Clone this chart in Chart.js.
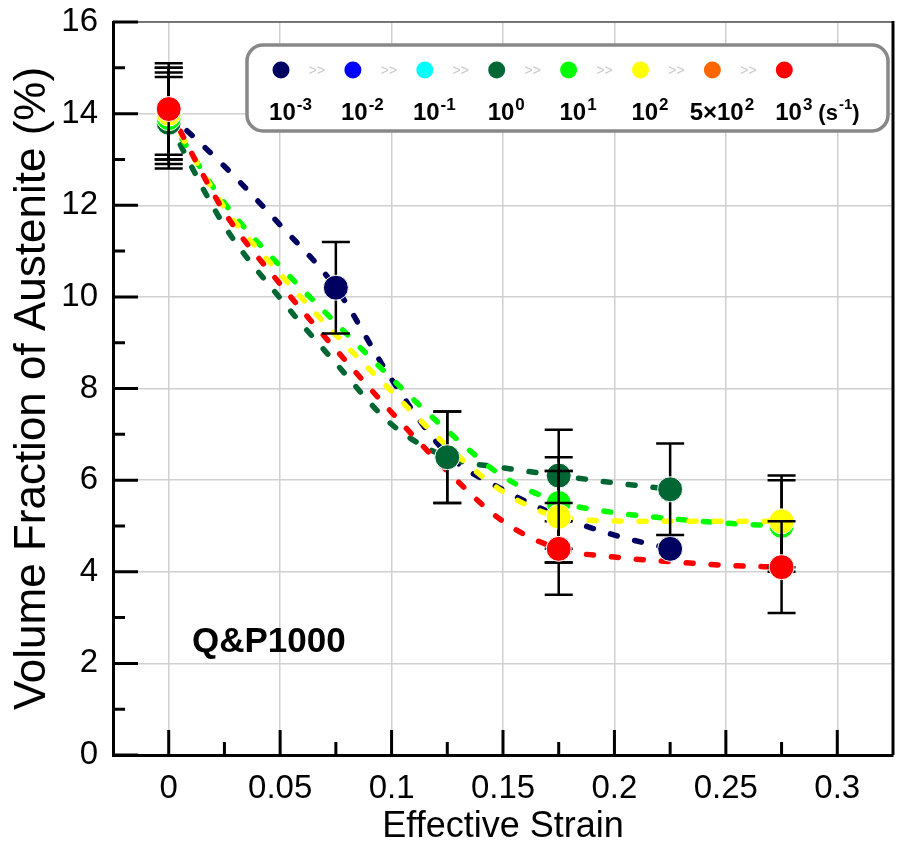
<!DOCTYPE html>
<html>
<head>
<meta charset="utf-8">
<script src="https://cdn.jsdelivr.net/npm/chart.js@4.4.1/dist/chart.umd.min.js"></script>
<style>
html, body { margin: 0; padding: 0; background: #fff; }
canvas { display: block; }
</style>
</head>
<body>
<canvas id="chartAustenite" width="897" height="851"></canvas>
<script>
// axis ticks
var xTicks = [0, 0.05, 0.1, 0.15, 0.2, 0.25, 0.3];
var xTickLabels = ['0', '0.05', '0.1', '0.15', '0.2', '0.25', '0.3'];
var xMinor = [0.025, 0.075, 0.125, 0.175, 0.225, 0.275];
var yTicks = [0, 2, 4, 6, 8, 10, 12, 14, 16];
var yMinor = [1, 3, 5, 7, 9, 11, 13, 15];

// strain rate legend (s-1)
var rateLabels = [['10', '-3'], ['10', '-2'], ['10', '-1'], ['10', '0'], ['10', '1'], ['10', '2'], ['5×10', '2'], ['10', '3']];
var rateColors = ['#000060', '#0000ff', '#00ffff', '#006633', '#00ff00', '#ffff00', '#ff6600', '#ff0000'];

// dashed trend curves, read along the dashes
var curveX = [0, 0.025, 0.05, 0.075, 0.1, 0.125, 0.15, 0.175, 0.2, 0.225, 0.25, 0.275];
var navyCurve = [14.0, 12.85, 11.57, 10.2, 8.2, 6.57, 5.79, 5.22, 4.8, 4.5];
var dkGreenCurve = [13.8, 11.55, 9.97, 8.55, 7.22, 6.5, 6.27, 6.1, 5.94, 5.8];
var limeCurve = [13.9, 12.05, 10.67, 9.43, 8.22, 7.08, 6.08, 5.53, 5.29, 5.16, 5.06, 5.0];
var yellowCurve = [14.0, 11.95, 10.5, 9.17, 7.94, 6.74, 5.75, 5.2, 5.11, 5.1, 5.1, 5.1];
var redCurve = [14.1, 11.85, 10.28, 8.85, 7.48, 6.2, 5.1, 4.5, 4.32, 4.22, 4.14, 4.1];

// measured points with error (+/-)
var navyX = [0, 0.075, 0.125, 0.175, 0.225];
var navyY = [14.0, 10.2, 6.5, 5.2, 4.5];
var navyErr = [1, 1, 1, 1, 0];
var dkGreenX = [0, 0.125, 0.175, 0.225];
var dkGreenY = [13.8, 6.5, 6.1, 5.8];
var dkGreenErr = [1, 1, 1, 1];
var limeX = [0, 0.175, 0.275];
var limeY = [13.9, 5.5, 5.0];
var limeErr = [1, 1, 1];
var yellowX = [0, 0.175, 0.275];
var yellowY = [14.0, 5.2, 5.1];
var yellowErr = [1, 1, 1];
var redX = [0, 0.175, 0.275];
var redY = [14.1, 4.5, 4.1];
var redErr = [1, 1, 1];

var FONT = "'Liberation Sans', Arial, sans-serif";

function pairs(xs, ys) {
    return ys.map(function (v, i) { return { x: xs[i], y: v }; });
}

function curveSet(ys, color, ord) {
    return {
        data: pairs(curveX, ys),
        showLine: true,
        borderColor: color,
        borderWidth: 5.5,
        borderDash: [7, 18],
        borderCapStyle: 'round',
        pointRadius: 0,
        cubicInterpolationMode: 'monotone',
        fill: false,
        order: ord
    };
}

function pointSet(xs, ys, errs, color, ord) {
    return {
        data: pairs(xs, ys),
        errs: errs,
        showLine: false,
        backgroundColor: color,
        borderColor: '#ffffff',
        borderWidth: 1,
        pointRadius: 12.5,
        order: ord
    };
}

function noPadding(s) {
    s.paddingTop = 0;
    s.paddingBottom = 0;
    s.paddingLeft = 0;
    s.paddingRight = 0;
}

var errorBars = {
    id: 'errorBars',
    beforeDatasetDraw: function (chart, args) {
        var ds = chart.data.datasets[args.index];
        if (!ds.errs) return;
        var ctx = chart.ctx;
        var y = chart.scales.y;
        ctx.save();
        ctx.strokeStyle = '#000';
        ctx.lineWidth = 2.5;
        args.meta.data.forEach(function (pt, i) {
            var e = ds.errs[i];
            if (!e) return;
            var v = ds.data[i].y;
            var top = y.getPixelForValue(v + e);
            var bot = y.getPixelForValue(v - e);
            ctx.beginPath();
            ctx.moveTo(pt.x, top); ctx.lineTo(pt.x, bot);
            ctx.moveTo(pt.x - 14, top); ctx.lineTo(pt.x + 14, top);
            ctx.moveTo(pt.x - 14, bot); ctx.lineTo(pt.x + 14, bot);
            ctx.stroke();
        });
        ctx.restore();
    }
};

var frameAndLegend = {
    id: 'frameAndLegend',
    afterDraw: function (chart) {
        var ctx = chart.ctx;
        var a = chart.chartArea;
        var xs = chart.scales.x, ys = chart.scales.y;
        ctx.save();

        // top and right borders
        ctx.strokeStyle = '#555';
        ctx.lineWidth = 1.5;
        ctx.beginPath(); ctx.moveTo(a.left, a.top); ctx.lineTo(a.right, a.top); ctx.stroke();
        ctx.strokeStyle = '#000';
        ctx.lineWidth = 3;
        ctx.beginPath(); ctx.moveTo(a.right, a.top - 1); ctx.lineTo(a.right, a.bottom); ctx.stroke();

        // inward ticks
        ctx.lineWidth = 3;
        ctx.beginPath();
        yTicks.forEach(function (v) { var p = ys.getPixelForValue(v); ctx.moveTo(a.left, p); ctx.lineTo(a.left + 25, p); });
        yMinor.forEach(function (v) { var p = ys.getPixelForValue(v); ctx.moveTo(a.left, p); ctx.lineTo(a.left + 12, p); });
        xTicks.forEach(function (v) { var p = xs.getPixelForValue(v); ctx.moveTo(p, a.bottom); ctx.lineTo(p, a.bottom - 25); });
        xMinor.forEach(function (v) { var p = xs.getPixelForValue(v); ctx.moveTo(p, a.bottom); ctx.lineTo(p, a.bottom - 13); });
        ctx.stroke();

        // sample name
        ctx.fillStyle = '#000';
        ctx.font = 'bold 35px ' + FONT;
        ctx.textBaseline = 'alphabetic';
        ctx.textAlign = 'left';
        ctx.fillText('Q&P1000', 192, 652);

        // legend box
        ctx.beginPath();
        ctx.roundRect(247, 45, 641, 86, 16);
        ctx.fillStyle = '#fff';
        ctx.fill();
        ctx.strokeStyle = '#888';
        ctx.lineWidth = 3.5;
        ctx.stroke();

        rateLabels.forEach(function (lab, i) {
            var cx = 281 + i * 71.9;
            ctx.beginPath();
            ctx.arc(cx, 70, 8.5, 0, Math.PI * 2);
            ctx.fillStyle = rateColors[i];
            ctx.fill();
            if (i < rateLabels.length - 1) {
                ctx.fillStyle = '#c8c8c8';
                ctx.font = '14px ' + FONT;
                ctx.textAlign = 'center';
                ctx.fillText('>>', cx + 36, 75);
            }
            ctx.textAlign = 'left';
            ctx.font = 'bold 24px ' + FONT;
            var wb = ctx.measureText(lab[0]).width;
            ctx.font = 'bold 17px ' + FONT;
            var ws = ctx.measureText(lab[1]).width;
            var x0 = cx + 9 - (wb + ws) / 2;
            ctx.fillStyle = '#000';
            ctx.font = 'bold 24px ' + FONT;
            ctx.fillText(lab[0], x0, 120);
            ctx.font = 'bold 17px ' + FONT;
            ctx.fillText(lab[1], x0 + wb + 1, 110);
            if (i === rateLabels.length - 1) {
                var x1 = x0 + wb + ws + 7;
                ctx.font = 'bold 22px ' + FONT;
                ctx.fillText('(s', x1, 120);
                x1 += ctx.measureText('(s').width;
                ctx.font = 'bold 15px ' + FONT;
                ctx.fillText('-1', x1 + 1, 109);
                x1 += ctx.measureText('-1').width + 1;
                ctx.font = 'bold 22px ' + FONT;
                ctx.fillText(')', x1, 120);
            }
        });
        ctx.restore();
    }
};

var config = {
    type: 'scatter',
    data: {
        datasets: [
            curveSet(navyCurve, rateColors[0], 14),
            curveSet(dkGreenCurve, rateColors[3], 13),
            curveSet(limeCurve, rateColors[4], 12),
            curveSet(yellowCurve, rateColors[5], 11),
            curveSet(redCurve, rateColors[7], 10),
            pointSet(navyX, navyY, navyErr, rateColors[0], 5),
            pointSet(dkGreenX, dkGreenY, dkGreenErr, rateColors[3], 4),
            pointSet(limeX, limeY, limeErr, rateColors[4], 3),
            pointSet(yellowX, yellowY, yellowErr, rateColors[5], 2),
            pointSet(redX, redY, redErr, rateColors[7], 1)
        ]
    },
    options: {
        responsive: false,
        animation: false,
        layout: { autoPadding: false, padding: { top: 22, right: 4, left: 0, bottom: 0 } },
        plugins: { legend: { display: false }, tooltip: { enabled: false } },
        scales: {
            x: {
                type: 'linear',
                min: -0.025,
                max: 0.325,
                afterBuildTicks: function (s) { s.ticks = xTicks.map(function (v) { return { value: v }; }); },
                afterFit: function (s) { s.height = 96; noPadding(s); },
                grid: { color: '#d0d0d0', lineWidth: 1.5, drawTicks: false },
                border: { color: '#000', width: 3 },
                ticks: {
                    color: '#000',
                    font: { family: FONT, size: 33 },
                    padding: 14,
                    maxRotation: 0,
                    autoSkip: false,
                    callback: function (v, i) { return xTickLabels[i]; }
                },
                title: { display: true, text: 'Effective Strain', color: '#000', font: { family: FONT, size: 36 }, padding: { top: 0, bottom: 2 } }
            },
            y: {
                type: 'linear',
                min: 0,
                max: 16,
                afterBuildTicks: function (s) { s.ticks = yTicks.map(function (v) { return { value: v }; }); },
                afterFit: function (s) { s.width = 113; noPadding(s); },
                grid: { color: '#d0d0d0', lineWidth: 1.5, drawTicks: false },
                border: { color: '#000', width: 3 },
                ticks: {
                    color: '#000',
                    font: { family: FONT, size: 33 },
                    padding: 15,
                    callback: function (v) { return String(v); }
                },
                title: { display: true, text: 'Volume Fraction of Austenite (%)', color: '#000', font: { family: FONT, size: 44 }, padding: { top: 6, bottom: 0 } }
            }
        }
    },
    plugins: [errorBars, frameAndLegend]
};

new Chart(document.getElementById('chartAustenite').getContext('2d'), config);
</script>
</body>
</html>
